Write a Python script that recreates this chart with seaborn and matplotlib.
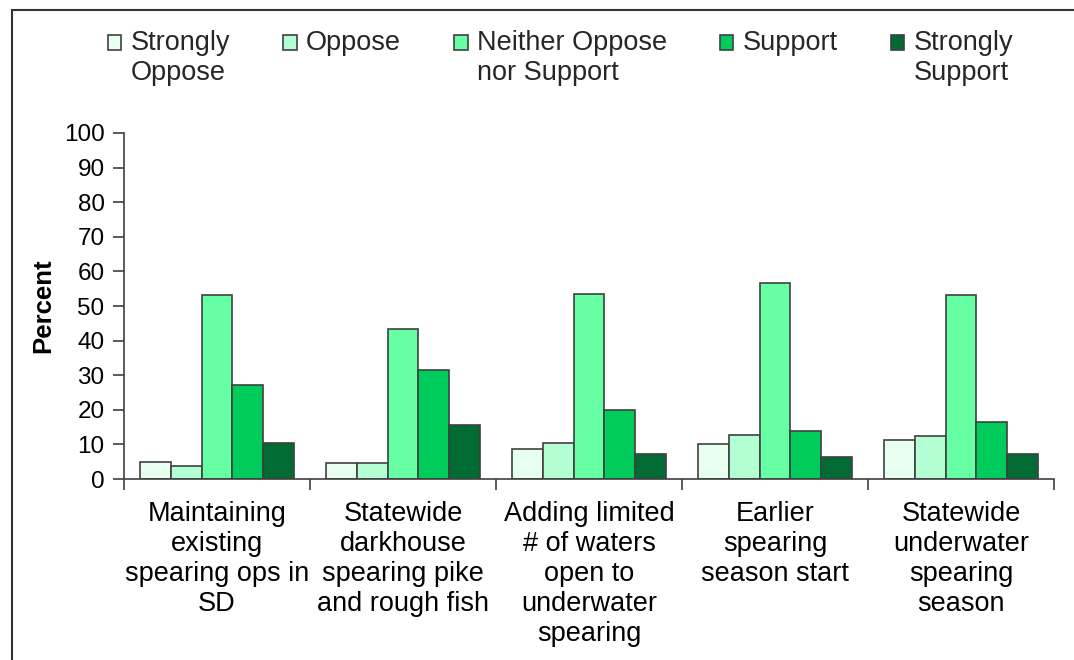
import matplotlib
matplotlib.use("Agg")
import matplotlib.pyplot as plt
import matplotlib.patches as mpatches
import numpy as np
import pandas as pd
import seaborn as sns

# Survey items (x categories)
ITEMS = [
    "Maintaining\nexisting\nspearing ops in\nSD",
    "Statewide\ndarkhouse\nspearing pike\nand rough fish",
    "Adding limited\n# of waters\nopen to\nunderwater\nspearing",
    "Earlier\nspearing\nseason start",
    "Statewide\nunderwater\nspearing\nseason",
]

RESPONSES = [
    "Strongly\nOppose",
    "Oppose",
    "Neither Oppose\nnor Support",
    "Support",
    "Strongly\nSupport",
]

# Percent per response, one list per response level
strongly_oppose = [4.8, 4.5, 8.6, 10.0, 11.2]
oppose = [3.8, 4.5, 10.3, 12.6, 12.4]
neither = [53.1, 43.4, 53.4, 56.6, 53.1]
support = [27.1, 31.5, 20.0, 14.0, 16.4]
strongly_support = [10.3, 15.5, 7.1, 6.3, 7.1]

Y_TICKS = list(range(0, 101, 10))

COLORS = ["#E6FFEE", "#B3FFD3", "#66FFA3", "#00CC5C", "#006B33"]

values = [strongly_oppose, oppose, neither, support, strongly_support]
rows = []
for resp, vals in zip(RESPONSES, values):
    for item, v in zip(ITEMS, vals):
        rows.append({"Item": item, "Response": resp, "Percent": v})
df = pd.DataFrame(rows)

sns.set_theme(style="white")
plt.rcParams["font.family"] = ["Liberation Sans", "DejaVu Sans"]

fig = plt.figure(figsize=(10.74, 6.6), dpi=100)
ax = fig.add_axes([0.1155, 0.2742, 0.8659, 0.5243])

sns.barplot(data=df, x="Item", y="Percent", hue="Response", order=ITEMS,
            hue_order=RESPONSES, palette=COLORS, width=0.83, ax=ax,
            edgecolor="#404040", linewidth=1.2, saturation=1, legend=True)

ax.set_ylim(0, 100)
ax.set_xlim(-0.5, len(ITEMS) - 0.5)
ax.set_yticks(Y_TICKS)
ax.tick_params(axis="y", which="major", direction="out", length=8, width=1.2,
               color="#404040", labelsize=17.5, left=True, pad=6, labelcolor="black")
ax.tick_params(axis="x", which="major", length=0, labelsize=19.5, pad=16,
               labelcolor="black")
ax.set_xticks(np.arange(-0.5, len(ITEMS)), minor=True)
ax.tick_params(axis="x", which="minor", direction="out", length=8, width=1.2,
               color="#404040", bottom=True)

for s in ["top", "right"]:
    ax.spines[s].set_visible(False)
for s in ["left", "bottom"]:
    ax.spines[s].set_color("#404040")
    ax.spines[s].set_linewidth(1.2)

ax.set_xlabel("")
ax.set_ylabel("Percent", fontsize=18.5, fontweight="bold", labelpad=6, color="black")

# legend: every label two lines tall, text top-aligned, marker beside first line
handles, labels = ax.get_legend_handles_labels()
ax.legend_.remove()
labels = [lab if "\n" in lab else lab + "\n" for lab in labels]
leg = fig.legend(handles, labels, loc="center", bbox_to_anchor=(0.522, 0.912), ncol=5,
                 frameon=False, fontsize=19.5, handlelength=0.5, handleheight=0.5,
                 handletextpad=0.35, columnspacing=1.95, borderaxespad=0)
for p in leg.get_patches():
    p.set_y(p.get_y() + 11.5)

# frame around the figure (left and top edges visible in the reference)
fig.patches.append(mpatches.Rectangle((0.011, -0.05), 1.2, 1.035, transform=fig.transFigure,
                                      fill=False, edgecolor="#333333", linewidth=1.5))

fig.savefig("out.png", dpi=100)
plt.close(fig)
